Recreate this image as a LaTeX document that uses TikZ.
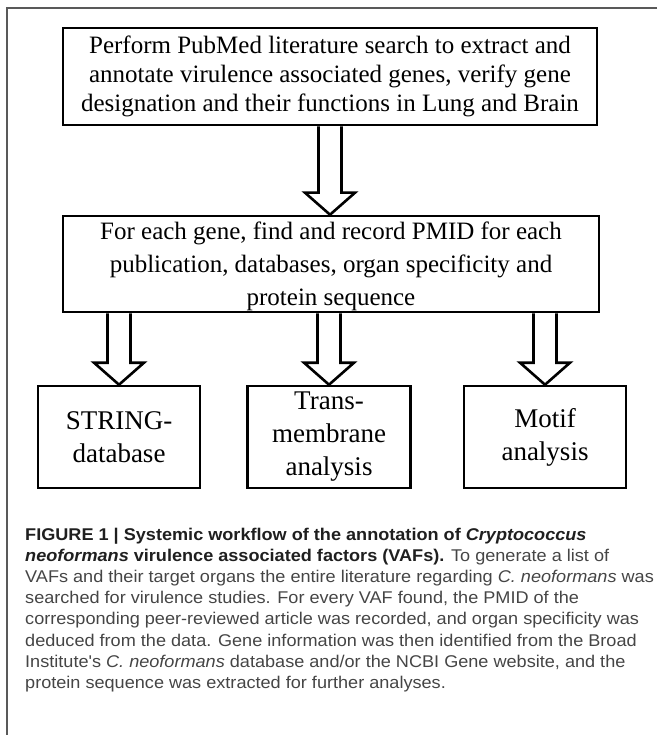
\documentclass[tikz,border=0pt]{standalone}
\usepackage{fontspec}
\setmainfont{Liberation Serif}
\newfontfamily\capfont[FakeStretch=1.065]{Liberation Sans}
\usetikzlibrary{calc}
\definecolor{framegray}{gray}{0.35}
\definecolor{captext}{gray}{0.27}
\definecolor{capbold}{gray}{0.12}
\tikzset{
    stepbox/.style={draw,line width=2.6pt,inner sep=0pt,align=center,font=\fontsize{25}{33}\selectfont},
    fat arrow/.style={draw,line width=2.6pt,line join=miter},
}
% hollow arrow from the bottom of #2 to the top of #3, at the x of #1
\newcommand{\blockarrow}[3]{%
    \draw[fat arrow] ($(#1|-#2.south)+(-11.5,0)$) -- ($(#1|-#3.north)+(-11.5,-22)$)
        -- ($(#1|-#3.north)+(-25,-22)$) -- (#1|-#3.north) -- ($(#1|-#3.north)+(25,-22)$)
        -- ($(#1|-#3.north)+(11.5,-22)$) -- ($(#1|-#2.south)+(11.5,0)$);
}

\begin{document}
\begin{tikzpicture}[x=1pt,y=-1pt]
\useasboundingbox (0,0) rectangle (657,735);
\draw[framegray,line width=1.2pt] (657,8) -- (7,8) -- (7,735);
\node[stepbox,minimum width=534pt,minimum height=97pt,font=\fontsize{25}{29}\selectfont] (search) at (330,76.5)
    {Perform PubMed literature search to extract and\\annotate virulence associated genes, verify gene\\designation and their functions in Lung and Brain};
\node[stepbox,minimum width=536pt,minimum height=96pt,text depth=0pt] (record) at (331,264)
    {For each gene, find and record PMID for each\\publication, databases, organ specificity and\\protein sequence};
\node[stepbox,minimum width=162pt,minimum height=102pt,font=\fontsize{27}{33}\selectfont] (string) at (119,437) {STRING-\\database};
\node[stepbox,minimum width=163pt,minimum height=102pt,font=\fontsize{27}{33}\selectfont] (membrane) at (329,437) {Trans-\\membrane\\analysis};
\node[stepbox,minimum width=162pt,minimum height=102pt,font=\fontsize{27}{33}\selectfont] (motif) at (545,437) {Motif\\analysis};
\blockarrow{search}{search}{record}
\blockarrow{string}{record}{string}
\blockarrow{membrane}{record}{membrane}
\blockarrow{motif}{record}{motif}
%caption
\node[anchor=north west,inner sep=0pt,align=left,text=captext,font=\capfont\fontsize{17}{21.1}\selectfont] (caption) at (25,528)
    {\textcolor{capbold}{\bfseries FIGURE 1 | Systemic workflow of the annotation of \itshape Cryptococcus}\\
     \textcolor{capbold}{\bfseries\itshape neoformans\upshape\ virulence associated factors (VAFs).} To generate a list of\\
     VAFs and their target organs the entire literature regarding \textit{C. neoformans} was\\
     searched for virulence studies. For every VAF found, the PMID of the\\
     corresponding peer-reviewed article was recorded, and organ specificity was\\
     deduced from the data. Gene information was then identified from the Broad\\
     Institute's \textit{C. neoformans} database and/or the NCBI Gene website, and the\\
     protein sequence was extracted for further analyses.};
\end{tikzpicture}
\end{document}
